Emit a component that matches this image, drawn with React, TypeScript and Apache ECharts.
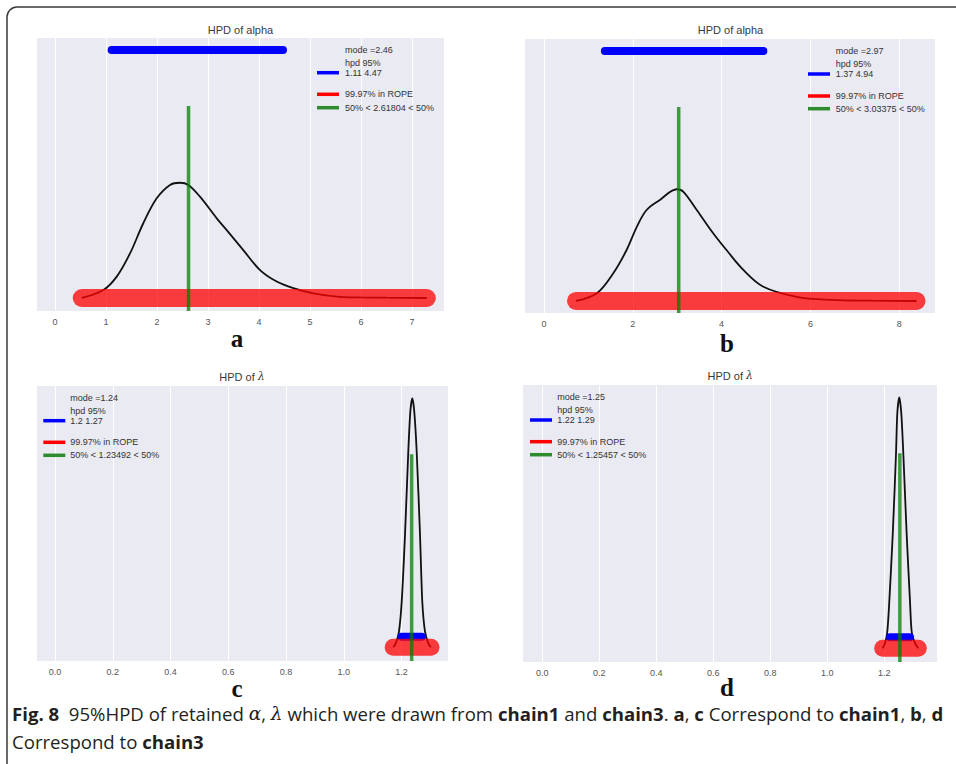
import React, { useEffect, useRef } from "react";
import * as echarts from "echarts";

// ---------- data ----------
const alphaChain1X = [0.524, 0.947, 1.21, 1.471, 1.731, 1.994, 2.255, 2.451, 2.614, 2.843, 3.171, 3.367, 3.692, 4.02, 4.347, 4.673, 5.065, 5.59, 6.0, 6.5, 7.29];
const alphaChain1Y = [0.0, 0.029, 0.078, 0.163, 0.273, 0.364, 0.413, 0.421, 0.413, 0.37, 0.291, 0.248, 0.175, 0.102, 0.06, 0.036, 0.017, 0.004, 0.002, 0.001, 0.0];

const alphaChain3X = [0.72, 1.19, 1.56, 1.86, 2.09, 2.31, 2.61, 2.99, 3.14, 3.44, 3.81, 4.11, 4.49, 4.94, 5.69, 6.44, 7.4, 8.39];
const alphaChain3Y = [0.0, 0.0275, 0.099, 0.182, 0.265, 0.325, 0.361, 0.399, 0.39, 0.325, 0.242, 0.182, 0.111, 0.051, 0.015, 0.004, 0.001, 0.0];

const lambdaChain1X = [1.171, 1.18, 1.191, 1.2005, 1.2119, 1.2233, 1.2303, 1.2372, 1.2441, 1.2524, 1.2639, 1.2718, 1.2812, 1.2926, 1.3019];
const lambdaChain1Y = [0, 0.35, 1.38, 4.03, 9.92, 17.28, 20.8, 22.0, 20.8, 17.28, 9.92, 4.03, 1.38, 0.35, 0];

const lambdaChain3X = [1.1944, 1.2025, 1.2105, 1.2175, 1.2295, 1.2411, 1.2456, 1.2526, 1.2596, 1.2667, 1.2786, 1.2902, 1.2961, 1.3077, 1.3193];
const lambdaChain3Y = [0, 0.46, 1.45, 4.09, 9.93, 17.08, 20.6, 22.0, 20.6, 17.08, 9.93, 4.09, 1.45, 0.46, 0];

const modes = [2.46, 2.97, 1.24, 1.25];
const hpdLow = [1.11, 1.37, 1.2, 1.22];
const hpdHigh = [4.47, 4.94, 1.27, 1.29];
const hpdLevel = [0.906, 0.893, 0.94, 0.96];
const ropeLow = [0.524, 0.72, 1.171, 1.1944];
const ropeHigh = [7.29, 8.39, 1.3019, 1.3193];
const ropeShare = ["99.97%", "99.97%", "99.97%", "99.97%"];
const medians = [2.61804, 3.03375, 1.23492, 1.25457];
const medianTop = [0.701, 0.693, 17.05, 17.09];

const alphaChain1Ticks = [0, 1, 2, 3, 4, 5, 6, 7];
const alphaChain3Ticks = [0, 2, 4, 6, 8];
const lambdaTicks = [0, 0.2, 0.4, 0.6, 0.8, 1.0, 1.2];

const panelTitles = ["HPD of alpha", "HPD of alpha", "HPD of {i|λ}", "HPD of {i|λ}"];
const panelLetters = ["a", "b", "c", "d"];

// ---------- layout / styles ----------
const kdeX = [alphaChain1X, alphaChain3X, lambdaChain1X, lambdaChain3X];
const kdeY = [alphaChain1Y, alphaChain3Y, lambdaChain1Y, lambdaChain3Y];
const tickSets = [alphaChain1Ticks, alphaChain3Ticks, lambdaTicks, lambdaTicks];

const layouts = [
  { left: 37, top: 38, width: 407, height: 273, xMin: -0.353, xMax: 7.627, yMin: -0.0475, yMax: 0.9496, ropeW: 18, titleX: 240.5, titleY: 30, letterX: 237, letterY: 338, hx: 317, tx: 345, rows: [50, 62.7, 72.7, 94.3, 107.7] },
  { left: 525, top: 39, width: 410, height: 274, xMin: -0.428, xMax: 8.806, yMin: -0.0429, yMax: 0.9357, ropeW: 18, titleX: 730.5, titleY: 30.3, letterX: 727, letterY: 343, hx: 808, tx: 835.7, rows: [51, 63.7, 74, 96, 108.7] },
  { left: 37, top: 386, width: 411, height: 275, xMin: -0.0623, xMax: 1.3608, yMin: -1.21, yMax: 23.08, ropeW: 17, titleX: 242, titleY: 376.7, letterX: 237, letterY: 688, hx: 43.3, tx: 70.3, rows: [397.7, 410.7, 420.7, 442.3, 455.3] },
  { left: 523, top: 385, width: 414, height: 277, xMin: -0.0677, xMax: 1.3849, yMin: -1.2, yMax: 23.08, ropeW: 17, titleX: 730.3, titleY: 375.7, letterX: 727, letterY: 687, hx: 530, tx: 557.3, rows: [396.7, 409.7, 420, 441.7, 454.7] },
];

const SANS = "'Liberation Sans', Arial, Helvetica, sans-serif";
const SERIF = "'Liberation Serif', 'Times New Roman', serif";
const CAPTION_FONT = "'Open Sans', 'Noto Sans', sans-serif";
const CAPTION_SIZE = 18.6;
const BLUE = "#0000ff";
const RED = "rgba(255,0,0,0.75)";
const GREEN = "rgba(0,128,0,0.75)";
const TEXT = "#333333";

function buildOption() {
  const grid = layouts.map((l) => ({
    left: l.left, top: l.top, width: l.width, height: l.height,
    show: true, backgroundColor: "#eaeaf2", borderWidth: 0,
  }));
  const xAxis = layouts.map((l, i) => ({
    type: "value", gridIndex: i, min: l.xMin, max: l.xMax,
    axisLine: { show: false },
    axisTick: { show: false, customValues: tickSets[i] },
    axisLabel: {
      customValues: tickSets[i],
      formatter: (v: number) => (i >= 2 ? v.toFixed(1) : String(Math.round(v))),
      color: "#555555", fontSize: 9, margin: 6, fontFamily: SANS,
    },
    splitLine: { show: true, lineStyle: { color: "#ffffff", width: 1 } },
  }));
  const yAxis = layouts.map((l, i) => ({ type: "value", gridIndex: i, min: l.yMin, max: l.yMax, show: false }));

  const series: any[] = [];
  layouts.forEach((l, i) => {
    series.push({
      type: "line", xAxisIndex: i, yAxisIndex: i, silent: true, z: 2,
      data: kdeX[i].map((x, k) => [x, kdeY[i][k]]),
      symbol: "none", smooth: i >= 2 ? 0.25 : 0.35,
      lineStyle: { color: "#111111", width: 1.8 },
    });
    series.push({
      type: "line", xAxisIndex: i, yAxisIndex: i, silent: true, z: 3,
      data: [[hpdLow[i], hpdLevel[i]], [hpdHigh[i], hpdLevel[i]]],
      symbol: "none", lineStyle: { color: BLUE, width: 8, cap: "round" },
    });
    series.push({
      type: "line", xAxisIndex: i, yAxisIndex: i, silent: true, z: 4,
      data: [[ropeLow[i], 0], [ropeHigh[i], 0]],
      symbol: "none", lineStyle: { color: RED, width: l.ropeW, cap: "round" },
    });
    series.push({
      type: "line", xAxisIndex: i, yAxisIndex: i, silent: true, z: 5,
      data: [[medians[i], l.yMin], [medians[i], medianTop[i]]],
      symbol: "none", lineStyle: { color: GREEN, width: 3.5 },
    });
  });

  const graphic: any[] = [];
  graphic.push({
    type: "rect", silent: true, z: 0,
    shape: { x: 7, y: 7, width: 1200, height: 1200, r: 10 },
    style: { fill: "none", stroke: "#3a3a3a", lineWidth: 1.5 },
  });
  layouts.forEach((l, i) => {
    graphic.push({
      type: "text", x: l.titleX, y: l.titleY, silent: true,
      style: {
        text: panelTitles[i], fill: "#3a3a3a", fontSize: 11, fontFamily: SANS,
        align: "center", verticalAlign: "middle",
        rich: { i: { fontStyle: "italic", fontSize: 11, fontFamily: "'DejaVu Serif', serif", fill: "#3a3a3a" } },
      },
    });
    graphic.push({
      type: "text", x: l.letterX, y: l.letterY, silent: true,
      style: { text: panelLetters[i], fill: "#111111", fontSize: 25, lineHeight: 22, fontWeight: "bold", fontFamily: SERIF, align: "center", verticalAlign: "middle" },
    });
    const r = l.rows;
    const legendTexts = [
      [`mode =${modes[i]}`, r[0]],
      ["hpd 95%", r[1]],
      [`${hpdLow[i]} ${hpdHigh[i]}`, r[2]],
      [`${ropeShare[i]} in ROPE`, r[3]],
      [`50% < ${medians[i]} < 50%`, r[4]],
    ];
    legendTexts.forEach(([t, y]) => {
      graphic.push({
        type: "text", x: l.tx, y: y as number, silent: true, z: 10,
        style: { text: t as string, fill: TEXT, fontSize: 9, fontFamily: SANS, align: "left", verticalAlign: "middle" },
      });
    });
    const handles: [number, string][] = [[r[2], BLUE], [r[3], "#ff0000"], [r[4], "#2e8b2e"]];
    handles.forEach(([y, c]) => {
      graphic.push({
        type: "line", silent: true, z: 10,
        shape: { x1: l.hx, y1: y, x2: l.hx + 22, y2: y },
        style: { stroke: c, lineWidth: 3.5 },
      });
    });
  });

  const capRich = {
    b: { fontWeight: "bold", fontSize: CAPTION_SIZE, lineHeight: 19, fontFamily: CAPTION_FONT, fill: "#231f20" },
    i: { fontStyle: "italic", fontSize: CAPTION_SIZE, lineHeight: 19, fontFamily: "'DejaVu Serif', serif", fill: "#231f20" },
  };
  graphic.push({
    type: "text", x: 12, y: 713, silent: true,
    style: {
      text: "{b|Fig. 8}  95%HPD of retained {i|α}, {i|λ} which were drawn from {b|chain1} and {b|chain3}. {b|a}, {b|c} Correspond to {b|chain1}, {b|b}, {b|d}",
      fontSize: CAPTION_SIZE, lineHeight: 19, fontFamily: CAPTION_FONT, fill: "#231f20",
      align: "left", verticalAlign: "middle", rich: capRich,
    },
  });
  graphic.push({
    type: "text", x: 12, y: 741, silent: true,
    style: {
      text: "Correspond to {b|chain3}",
      fontSize: CAPTION_SIZE, lineHeight: 19, fontFamily: CAPTION_FONT, fill: "#231f20",
      align: "left", verticalAlign: "middle", rich: capRich,
    },
  });

  return { animation: false, backgroundColor: "#ffffff", grid, xAxis, yAxis, series, graphic };
}

export default function App() {
  const ref = useRef<HTMLDivElement>(null);
  useEffect(() => {
    document.body.style.margin = "0";
    if (!ref.current) return;
    const chart = echarts.init(ref.current, undefined, { renderer: "svg" });
    chart.setOption(buildOption() as any);
    return () => chart.dispose();
  }, []);
  return <div ref={ref} style={{ width: 956, height: 764 }} />;
}
